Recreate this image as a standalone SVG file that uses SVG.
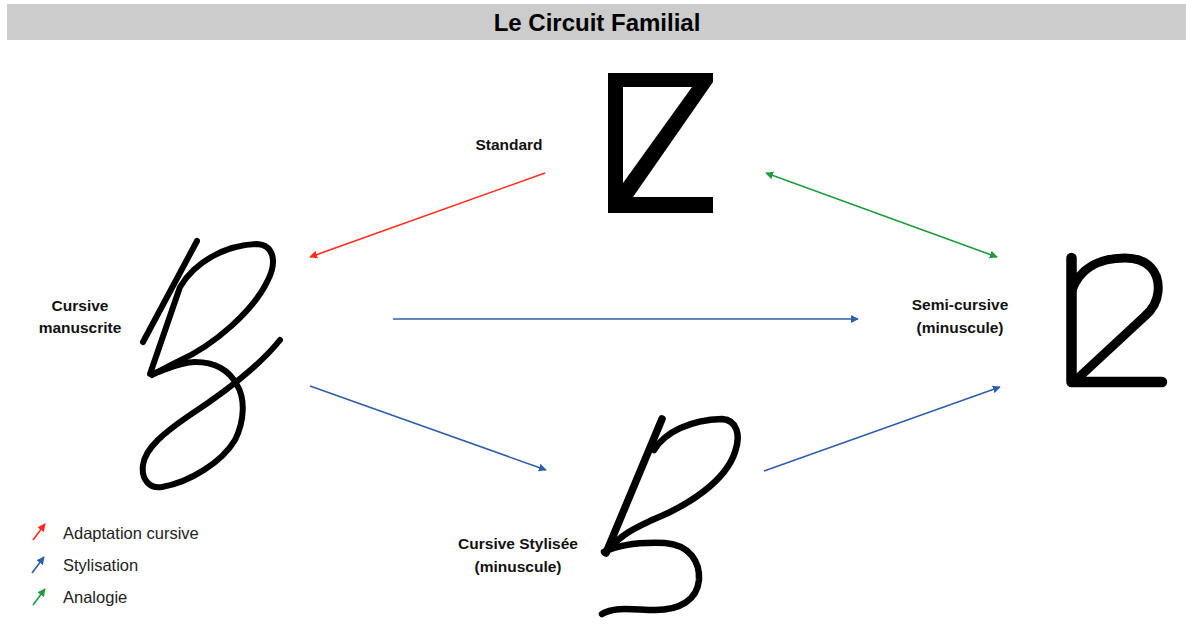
<svg xmlns="http://www.w3.org/2000/svg" width="1186" height="635" viewBox="0 0 1186 635">
<defs>
<style>
.lbl{font-family:"Liberation Sans",Arial,sans-serif;font-weight:bold;font-size:15.5px;fill:#111;text-anchor:middle}
.leg{font-family:"Liberation Sans",Arial,sans-serif;font-size:16.5px;fill:#222}
.ink{fill:none;stroke:#000;stroke-linecap:round;stroke-linejoin:round}
.red{stroke:#ff2a1a;stroke-width:1.6;fill:none}
.blue{stroke:#2f5ea8;stroke-width:1.6;fill:none}
.green{stroke:#1f9a3c;stroke-width:1.6;fill:none}
</style>
<marker id="ar" viewBox="0 0 10 10" refX="9" refY="5" markerWidth="5" markerHeight="5" orient="auto-start-reverse"><path d="M0,0 L10,5 L0,10 Z" fill="#ff2a1a"/></marker>
<marker id="ab" viewBox="0 0 10 10" refX="9" refY="5" markerWidth="5" markerHeight="5" orient="auto-start-reverse"><path d="M0,0 L10,5 L0,10 Z" fill="#2f5ea8"/></marker>
<marker id="ag" viewBox="0 0 10 10" refX="9" refY="5" markerWidth="5" markerHeight="5" orient="auto-start-reverse"><path d="M0,0 L10,5 L0,10 Z" fill="#1f9a3c"/></marker>
</defs>
<rect width="1186" height="635" fill="#fff"/>
<g id="title">
<rect x="7" y="4" width="1179" height="36" fill="#cccccc"/>
<text x="597" y="31" font-family="'Liberation Sans',Arial,sans-serif" font-weight="bold" font-size="24" text-anchor="middle" fill="#000">Le Circuit Familial</text>
</g>
<g id="connectors">
<line class="red" x1="545" y1="173" x2="310" y2="257" marker-end="url(#ar)"/>
<line class="green" x1="766" y1="173" x2="997" y2="257" marker-start="url(#ag)" marker-end="url(#ag)"/>
<line class="blue" x1="393" y1="319" x2="858" y2="319" marker-end="url(#ab)"/>
<line class="blue" x1="310" y1="386" x2="546" y2="470" marker-end="url(#ab)"/>
<line class="blue" x1="764" y1="471" x2="1000" y2="387" marker-end="url(#ab)"/>
</g>
<g id="node-standard">
<path d="M608,73 H713 V82 L633,197 H713 V213 H608 Z M623,87 V183 L692,87 Z" fill="#000" fill-rule="evenodd"/>
<text class="lbl" x="509" y="150">Standard</text>
</g>
<g id="node-cursive-manuscrite">
<path class="ink" stroke-width="6" d="M143,342 L197,241"/>
<path class="ink" stroke-width="6" d="M150,374 L180,287 C195,262 225,245 257,244 C274,245 277,262 268,280 C254,310 215,345 177,362 C165,368 158,372 152,375"/>
<path class="ink" stroke-width="6" d="M280,340 C260,365 225,392 190,415 C165,432 145,448 143,465 C141,480 150,489 162,487 C190,482 222,462 235,440 C245,420 245,398 237,385 C228,368 212,362 195,362 C180,362 165,370 152,374"/>
<text class="lbl" x="80" y="311">Cursive</text>
<text class="lbl" x="80" y="333">manuscrite</text>
</g>
<g id="node-semi-cursive">
<path class="ink" stroke-width="10.5" stroke-linecap="butt" stroke-linejoin="miter" d="M1071.5,258 V382 H1162"/>
<path class="ink" stroke-width="9" d="M1072,290 C1080,268 1100,258 1125,258 C1148,258 1160,272 1158,292 C1157,302 1152,310 1145,316 L1076,380"/>
<text class="lbl" x="960" y="310">Semi-cursive</text>
<text class="lbl" x="960" y="333">(minuscule)</text>
</g>
<g id="node-cursive-stylisee">
<path class="ink" stroke-width="7.5" stroke-linecap="butt" d="M662,419 L606,553"/>
<path class="ink" stroke-width="6.5" d="M654,450 C665,432 690,420 722,419 C737,420 741,435 735,452 C726,480 690,505 652,520 C635,528 622,534 610,548"/>
<path class="ink" stroke-width="6.5" stroke-linecap="butt" d="M604,552 C620,544 640,542 665,543 C690,545 700,562 699,580 C697,600 680,610 655,610 C635,610 615,606 602,614"/>
<text class="lbl" x="518" y="549">Cursive Stylisée</text>
<text class="lbl" x="518" y="572">(minuscule)</text>
</g>
<g id="legend">
<line class="red" x1="33" y1="540" x2="45" y2="524" marker-end="url(#ar)"/>
<line class="blue" x1="32" y1="573" x2="44" y2="557" marker-end="url(#ab)"/>
<line class="green" x1="33" y1="605" x2="45" y2="589" marker-end="url(#ag)"/>
<text class="leg" x="63" y="539">Adaptation cursive</text>
<text class="leg" x="63" y="571">Stylisation</text>
<text class="leg" x="63" y="603">Analogie</text>
</g>
</svg>
